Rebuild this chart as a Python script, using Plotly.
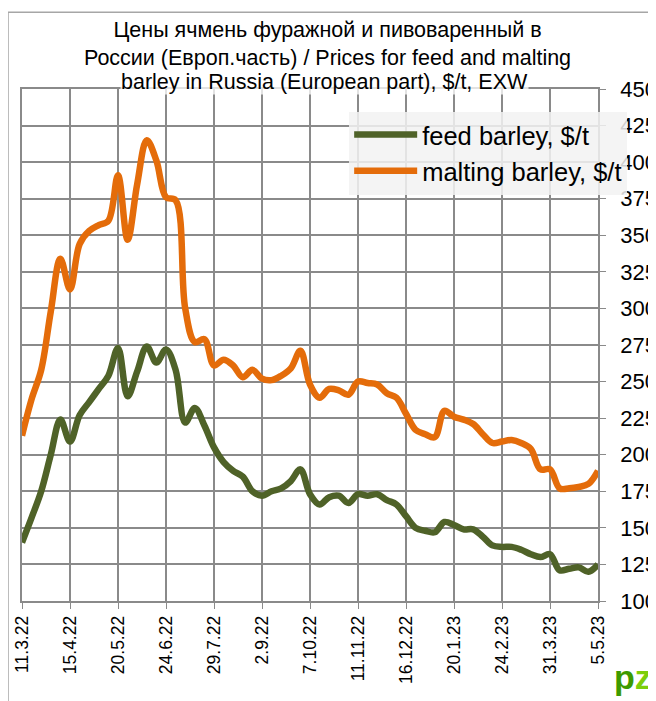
import pandas as pd
import plotly.graph_objects as go

# weekly prices, 11.3.22 .. 5.5.23
dates = pd.date_range("2022-03-11", periods=61, freq="7D")

feed_barley = [140, 157, 175, 200, 224, 209, 227, 236, 245, 254,
               273, 240, 257, 274, 263, 272, 258, 222, 232, 220,
               205, 195, 189, 185, 175, 172, 175, 177, 182, 190,
               173, 166, 171, 172, 167, 173, 172, 173, 169, 166,
               158, 150, 148, 147, 154, 152, 149, 149, 144, 138,
               137, 137, 135, 132, 130, 132, 121, 122, 123, 120,
               125]

malting_barley = [213, 238, 258, 298, 334, 313, 344, 353, 357, 360,
                  391, 347, 385, 415, 401, 376, 374, 300, 277, 279,
                  261, 265, 261, 253, 258, 252, 251, 254, 259, 271,
                  248, 239, 245, 244, 241, 250, 249, 248, 242, 239,
                  228, 217, 214, 212, 230, 226, 224, 221, 214, 208,
                  209, 210, 208, 204, 190, 190, 177, 177, 178, 180,
                  189]

tick_labels = ["11.3.22", "15.4.22", "20.5.22", "24.6.22", "29.7.22", "2.9.22",
               "7.10.22", "11.11.22", "16.12.22", "20.1.23", "24.2.23",
               "31.3.23", "5.5.23"]

FONT = "Liberation Sans Narrow, Arial Narrow, Liberation Sans, Arial"
GRID = "#8a8a8a"

fig = go.Figure()
fig.add_trace(go.Scatter(x=dates, y=feed_barley, name="feed barley, $/t",
                         mode="lines", line=dict(color="#4f6228", width=6.5, shape="spline")))
fig.add_trace(go.Scatter(x=dates, y=malting_barley, name="malting barley, $/t",
                         mode="lines", line=dict(color="#e46c0a", width=6.5, shape="spline")))

# page body has an 8px margin, so the figure is 8px smaller than the window
fig.update_layout(
    width=648, height=693,
    margin=dict(l=14, r=58, t=81, b=100, autoexpand=False),
    paper_bgcolor="white", plot_bgcolor="white",
    font=dict(family=FONT, color="black", size=20),
    showlegend=True,
    legend=dict(x=0.568, y=0.956, xanchor="left", yanchor="top",
                bgcolor="rgba(242,242,242,0.85)", font=dict(size=25.5),
                tracegroupgap=0, itemwidth=63,
                entrywidth=282, entrywidthmode="pixels"),
)

fig.update_xaxes(
    range=[dates[0], dates[-1]], automargin=False,
    tickvals=dates[::5], ticktext=tick_labels, tickangle=-90,
    showgrid=True, gridcolor=GRID, gridwidth=1.6,
    showline=True, linecolor=GRID, linewidth=1.6, mirror=True,
    ticks="outside", ticklen=6, tickcolor=GRID,
    tickfont=dict(size=17.5),
)
fig.update_yaxes(
    side="right", range=[100, 450], dtick=25, automargin=False,
    showgrid=True, gridcolor=GRID, gridwidth=1.6,
    showline=True, linecolor=GRID, linewidth=1.6, mirror=True,
    ticks="outside", ticklen=6, tickcolor=GRID, ticklabelstandoff=10,
    tickfont=dict(size=22),
)

# outer chart frame (only top and left edges fall inside the picture)
fig.add_shape(type="rect", xref="paper", yref="paper",
              x0=-0.0243, x1=2, y0=-1, y1=1.150,
              line=dict(color="#a6a6a6", width=1.5), layer="below")

# title
fig.add_annotation(xref="paper", yref="paper", x=0.53, y=1.142,
                   xanchor="center", yanchor="top", showarrow=False,
                   text="Цены ячмень фуражной и пивоваренный в<br>России (Европ.часть) / Prices for feed and malting",
                   font=dict(size=21.5))
fig.add_annotation(xref="paper", yref="paper", x=0.525, y=1.04,
                   xanchor="center", yanchor="top", showarrow=False,
                   text="barley in Russia (European part), $/t, EXW",
                   font=dict(size=21.5), bgcolor="rgba(255,255,255,0.75)", borderpad=0)

# logo
fig.add_annotation(xref="paper", yref="paper", x=1.098, y=-0.108,
                   xanchor="right", yanchor="top", showarrow=False,
                   text="<b><span style='color:#3d9a00'>p</span><span style='color:#7dce0a'>z</span></b>",
                   font=dict(size=34, family="Liberation Sans"))

fig.write_html("out.html")
